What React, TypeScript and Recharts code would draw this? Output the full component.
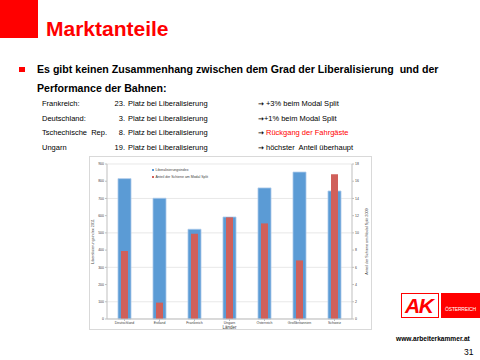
import React from "react";
import {
  BarChart,
  Bar,
  XAxis,
  YAxis,
  CartesianGrid,
  Legend,
} from "recharts";

const categories = ["Deutschland", "Estland", "Frankreich", "Ungarn", "Österreich", "Großbritannien", "Schweiz"];
const liberalisierung = [815, 701, 521, 592, 761, 853, 743];
const modalSplit = [7.9, 1.9, 9.9, 11.8, 11.1, 6.8, 16.8];
const leftTicks = [0, 100, 200, 300, 400, 500, 600, 700, 800, 900];
const rightTicks = [0, 2, 4, 6, 8, 10, 12, 14, 16, 18];

const seriesNames = ["Liberalisierungsindex", "Anteil der Schiene am Modal Split"];
const BLUE = "#5B9BD5";
const RED = "#D0605A";

const tableRows = [
  { land: "Frankreich:", rank: "23.", note: "+3% beim Modal Split", gap: " ", red: false },
  { land: "Deutschland:", rank: "3.", note: "+1% beim Modal Split", gap: "", red: false },
  { land: "Tschechische  Rep.", rank: "8.", note: "Rückgang der Fahrgäste", gap: " ", red: true },
  { land: "Ungarn", rank: "19.", note: "höchster  Anteil überhaupt", gap: " ", red: false },
];

const data = categories.map((name, i) => ({
  name,
  lib: liberalisierung[i],
  modal: modalSplit[i],
}));

const FONT = "'Liberation Sans', Arial, sans-serif";

function ChartLegend() {
  const colors = [BLUE, RED];
  return (
    <div style={{ fontFamily: FONT, fontSize: 3.5, color: "#404040", lineHeight: "6.5px" }}>
      {seriesNames.map((s, i) => (
        <div key={s} style={{ display: "flex", alignItems: "center" }}>
          <span style={{ width: 2, height: 2, background: colors[i], marginRight: 1.5, display: "inline-block" }} />
          {s}
        </div>
      ))}
    </div>
  );
}

export default function App() {
  return (
    <div
      style={{
        position: "absolute",
        left: 0,
        top: 0,
        width: 480,
        height: 360,
        overflow: "hidden",
        background: "#fff",
        fontFamily: FONT,
      }}
    >
      {/* header */}
      <div style={{ position: "absolute", left: 0, top: 0, width: 38, height: 38, background: "#FF0000" }} />
      <div style={{ position: "absolute", left: 46, top: 17, fontSize: 21, fontWeight: "bold", color: "#FF0000", lineHeight: "24px" }}>
        Marktanteile
      </div>

      {/* bullet */}
      <div style={{ position: "absolute", left: 19, top: 67, width: 6, height: 5, background: "#FF0000" }} />
      <div style={{ position: "absolute", left: 37, top: 60, fontSize: 10.6, fontWeight: "bold", color: "#000", lineHeight: "19px", whiteSpace: "pre" }}>
        {"Es gibt keinen Zusammenhang zwischen dem Grad der Liberalisierung  und der\nPerformance der Bahnen:"}
      </div>

      {/* table */}
      {tableRows.map((r, i) => (
        <div key={r.land} style={{ position: "absolute", left: 0, top: 99 + i * 14.5, height: 10, fontSize: 7.5, color: "#000", lineHeight: "10px", whiteSpace: "pre" }}>
          <span style={{ position: "absolute", left: 42 }}>{r.land}</span>
          <span style={{ position: "absolute", left: 100, width: 25, textAlign: "right" }}>{r.rank}</span>
          <span style={{ position: "absolute", left: 128 }}>Platz bei Liberalisierung</span>
          <span style={{ position: "absolute", left: 258 }}>
            <span style={{ fontFamily: "'DejaVu Sans', sans-serif", fontWeight: "bold", fontSize: 7 }}>{"\u2192"}</span>
            {r.gap}
            <span style={{ color: r.red ? "#FF0000" : "#000" }}>{r.note}</span>
          </span>
        </div>
      ))}

      {/* chart */}
      <div style={{ position: "absolute", left: 89, top: 156, width: 281, height: 172, border: "1px solid #d9d9d9", background: "#fff" }}>
        <BarChart width={281} height={172} data={data} margin={{ top: 7, right: 0, bottom: 0, left: 0 }}>
          <CartesianGrid vertical={false} stroke="#d9d9d9" strokeWidth={0.6} yAxisId="left" xAxisId="a" />
          <XAxis
            xAxisId="a"
            dataKey="name"
            height={10}
            interval={0}
            tick={{ fontSize: 3.5, fill: "#404040" }}
            tickSize={2}
            tickMargin={0.5}
            stroke="#bfbfbf"
            label={{ value: "Länder", position: "insideBottom", offset: 0, fontSize: 4.5, fill: "#404040" }}
          />
          <XAxis xAxisId="b" dataKey="name" hide />
          <YAxis
            yAxisId="left"
            domain={[0, 900]}
            ticks={leftTicks}
            width={17}
            tick={{ fontSize: 3.5, fill: "#404040" }}
            tickSize={2}
            tickMargin={1}
            stroke="#bfbfbf"
            label={{ value: "Liberalisierungsindex 2011", angle: -90, position: "insideLeft", offset: 3, fontSize: 3.8, fill: "#404040", style: { textAnchor: "middle" } }}
          />
          <YAxis
            yAxisId="right"
            orientation="right"
            domain={[0, 18]}
            ticks={rightTicks}
            width={19}
            tick={{ fontSize: 3.5, fill: "#404040" }}
            tickSize={2}
            tickMargin={1}
            stroke="#bfbfbf"
            label={{ value: "Anteil der Schiene am Modal Split 2009", angle: -90, position: "insideRight", offset: 4, fontSize: 3.8, fill: "#404040", style: { textAnchor: "middle" } }}
          />
          <Legend
            layout="vertical"
            align="center"
            verticalAlign="middle"
            wrapperStyle={{ left: 62, top: 10, width: "auto", height: "auto" }}
            content={() => <ChartLegend />}
          />
          <Bar xAxisId="a" yAxisId="left" dataKey="lib" name={seriesNames[0]} barSize={13} fill={BLUE} stroke="#A9C8EA" strokeWidth={0.8} isAnimationActive={false} />
          <Bar xAxisId="b" yAxisId="right" dataKey="modal" name={seriesNames[1]} barSize={7} fill={RED} isAnimationActive={false} />
        </BarChart>
      </div>

      {/* logo */}
      <div style={{ position: "absolute", left: 401, top: 293, width: 36, height: 23, border: "1px solid #FF0000", background: "#fff", overflow: "hidden" }}>
        <div style={{ position: "absolute", left: 3, top: 1, fontSize: 21, fontWeight: "bold", fontStyle: "italic", color: "#FF0000", lineHeight: "22px", letterSpacing: -1.5 }}>
          AK
        </div>
      </div>
      <div style={{ position: "absolute", left: 441, top: 293, width: 39, height: 25, background: "#FF0000" }}>
        <div style={{ position: "absolute", left: 0, top: 13, width: 39, textAlign: "center", fontSize: 5, color: "#fff", lineHeight: "6px", letterSpacing: -0.2 }}>
          ÖSTERREICH
        </div>
      </div>
      <div style={{ position: "absolute", left: 396, top: 335, fontSize: 6.6, fontWeight: "bold", color: "#000", lineHeight: "8px" }}>
        www.arbeiterkammer.at
      </div>
      <div style={{ position: "absolute", left: 464, top: 347, fontSize: 8.5, color: "#000", lineHeight: "10px" }}>
        31
      </div>
    </div>
  );
}
